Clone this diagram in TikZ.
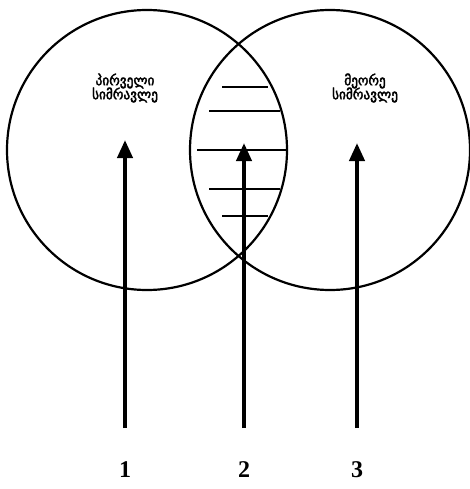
\documentclass[tikz,border=0pt]{standalone}
\usepackage{fontspec}
\setmainfont{Liberation Serif}
\newfontfamily\geofont[FakeBold=2.5]{DejaVu Sans}
\usetikzlibrary{arrows.meta}
\begin{document}
\begin{tikzpicture}[x=1pt,y=-1pt,
  setc/.style={draw,circle,line width=2.2pt,minimum size=280pt,inner sep=0pt},
  hline/.style={line width=2.2pt},
  bigarrow/.style={line width=4pt,-{Triangle[length=18pt,width=15pt]}},
  geo/.style={font=\geofont\fontsize{14}{14}\selectfont,align=center,inner sep=0pt},
  num/.style={font=\bfseries\fontsize{24}{24}\selectfont,inner sep=0pt}]
\useasboundingbox (0,0) rectangle (469,489);
\node[setc] (A) at (147,150) {};
\node[setc] (B) at (330,150) {};
% hatching lines in the lens
\coordinate (h1l) at (222,87);  \coordinate (h1r) at (268,87);
\coordinate (h2l) at (209,111); \coordinate (h2r) at (280,111);
\coordinate (h3l) at (197,150); \coordinate (h3r) at (287,150);
\coordinate (h4l) at (209,189); \coordinate (h4r) at (280,189);
\coordinate (h5l) at (222,216); \coordinate (h5r) at (268,216);
\draw[hline] (h1l) -- (h1r);
\draw[hline] (h2l) -- (h2r);
\draw[hline] (h3l) -- (h3r);
\draw[hline] (h4l) -- (h4r);
\draw[hline] (h5l) -- (h5r);
% texts
\node[geo] (ta) at (125,88) {\scalebox{0.95}[1]{პირველი}\\[-2pt]\scalebox{0.95}[1]{სიმრავლე}};
\node[geo] (tb) at (365,88) {\scalebox{0.95}[1]{მეორე}\\[-2pt]\scalebox{0.95}[1]{სიმრავლე}};
% arrows
\coordinate (s1) at (125,428); \coordinate (e1) at (125,140);
\coordinate (s2) at (244,428); \coordinate (e2) at (244,143);
\coordinate (s3) at (357,428); \coordinate (e3) at (357,143);
\draw[bigarrow] (s1) -- (e1);
\draw[bigarrow] (s2) -- (e2);
\draw[bigarrow] (s3) -- (e3);
% numbers
\node[num] (n1) at (125,470) {1};
\node[num] (n2) at (244,470) {2};
\node[num] (n3) at (357,470) {3};
\end{tikzpicture}
\end{document}
